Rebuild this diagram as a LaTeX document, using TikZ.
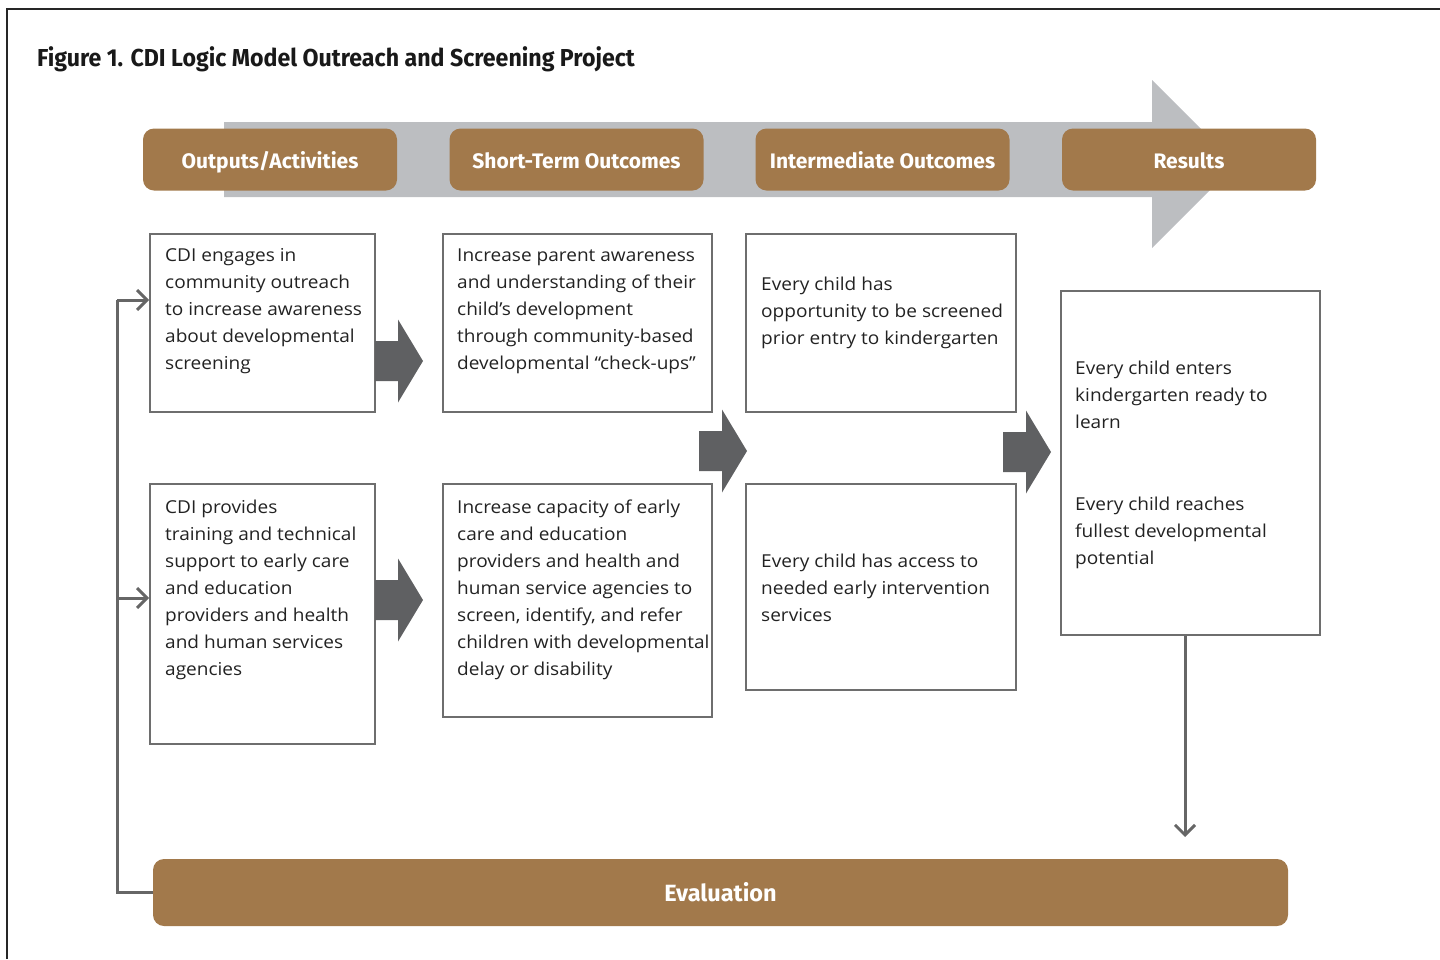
\documentclass[tikz,border=0pt]{standalone}
\usepackage{fontspec}
\usetikzlibrary{arrows.meta}
\setmainfont{Open Sans}[FakeStretch=1.07]
\newfontfamily\headfont{Fira Sans}
\newfontfamily\condfont{Fira Sans}[FakeStretch=0.945]

\definecolor{cdibrown}{HTML}{A2794B}
\definecolor{bandgray}{HTML}{BCBEC1}
\definecolor{arrowgray}{HTML}{5F6062}
\definecolor{boxgray}{HTML}{6E6E6E}
\definecolor{loopgray}{HTML}{666666}
\definecolor{inkgray}{HTML}{222222}

\tikzset{
  header/.style={fill=cdibrown, rounded corners=11pt, text=white, inner sep=0pt,
    minimum width=254pt, minimum height=62pt, text height=22pt, text depth=4pt,
    font=\headfont\bfseries\fontsize{21}{24}\selectfont},
  txtbox/.style={draw=boxgray, line width=1.6pt, inner sep=0pt},
  % anchored on the baseline of the last line
  boxtext/.style={anchor=base west, align=left, inner sep=0pt, text=inkgray,
    font=\fontsize{17.8}{27}\selectfont},
  feedback/.style={draw=loopgray, line width=3pt},
  barb/.style={-{Straight Barb[length=10pt,width=20pt,line width=3pt]}},
}

% block arrow between two columns, #1 = left end of the shaft
\newcommand{\fatarrow}[1]{%
  \fill[arrowgray, shift={#1}] (0,-20) -- (23,-20) -- (23,-41.5) -- (48,0)
    -- (23,41.5) -- (23,20) -- (0,20) -- cycle;}

\begin{document}
\begin{tikzpicture}[x=1pt, y=-1pt]
\useasboundingbox (0,0) rectangle (1440,959);
% frame and title
\draw[line width=2.5pt, draw=black!85] (7,959) -- (7,9) -- (1440,9);
\node[anchor=base west, inner sep=0pt, font=\condfont\bfseries\fontsize{24.5}{28}\selectfont, text=black!90]
  (title) at (37,66) {Figure 1. CDI Logic Model Outreach and Screening Project};

% gray band behind the headers
\fill[bandgray] (224,122) -- (1152,122) -- (1152,80) -- (1236,164)
  -- (1152,248) -- (1152,197) -- (224,197) -- cycle;

% headers
\node[header] (h-out)   at (270,159.5)    {Outputs/Activities};
\node[header] (h-short) at (576.5,159.5)  {Short-Term Outcomes};
\node[header] (h-mid)   at (882.5,159.5)  {Intermediate Outcomes};
\node[header] (h-res)   at (1189,159.5)   {Results};

% boxes
\node[txtbox, minimum width=225pt, minimum height=178pt] (b1) at (262.5,323) {};
\node[txtbox, minimum width=225pt, minimum height=260pt] (b2) at (262.5,614) {};
\node[txtbox, minimum width=269pt, minimum height=178pt] (c1) at (577.5,323) {};
\node[txtbox, minimum width=269pt, minimum height=233pt] (c2) at (577.5,600.5) {};
\node[txtbox, minimum width=270pt, minimum height=178pt] (d1) at (881,323) {};
\node[txtbox, minimum width=270pt, minimum height=206pt] (d2) at (881,587) {};
\node[txtbox, minimum width=259pt, minimum height=344pt] (e)  at (1190.5,463) {};

% box texts
\node[boxtext] (b1-text) at (165,369) {CDI engages in\\community outreach\\to increase awareness\\about developmental\\screening};
\node[boxtext] (b2-text) at (165,675) {CDI provides\\training and technical\\support to early care\\and education\\providers and health\\and human services\\agencies};
\node[boxtext] (c1-text) at (457,369) {Increase parent awareness\\and understanding of their\\child’s development\\through community-based\\developmental “check-ups”};
\node[boxtext] (c2-text) at (457,675) {Increase capacity of early\\care and education\\providers and health and\\human service agencies to\\screen, identify, and refer\\children with developmental\\delay or disability};
\node[boxtext] (d1-text) at (761,344) {Every child has\\opportunity to be screened\\prior entry to kindergarten};
\node[boxtext] (d2-text) at (761,621) {Every child has access to\\needed early intervention\\services};
\node[boxtext] (e-ready) at (1075,428) {Every child enters\\kindergarten ready to\\learn};
\node[boxtext] (e-full)  at (1075,564) {Every child reaches\\fullest developmental\\potential};

% block arrows
\fatarrow{(375,361)}
\fatarrow{(375,600)}
\fatarrow{(699,451)}
\fatarrow{(1003,452)}

% evaluation
\node[header, minimum width=1135pt, minimum height=67pt,
  font=\headfont\bfseries\fontsize{23.5}{26}\selectfont] (eval) at (720.5,892.5) {Evaluation};

% feedback loop
\coordinate (loop-top) at (117,300);
\coordinate (loop-mid) at (117,598);
\coordinate (eval-in)  at (1185,837);
\draw[feedback] (eval.west) -| (loop-top);
\draw[feedback, barb] (loop-top) -- (loop-top -| b1.west);
\draw[feedback, barb] (loop-mid) -- (loop-mid -| b2.west);
\draw[feedback, barb] (e.south -| eval-in) -- (eval-in);
\end{tikzpicture}
\end{document}
